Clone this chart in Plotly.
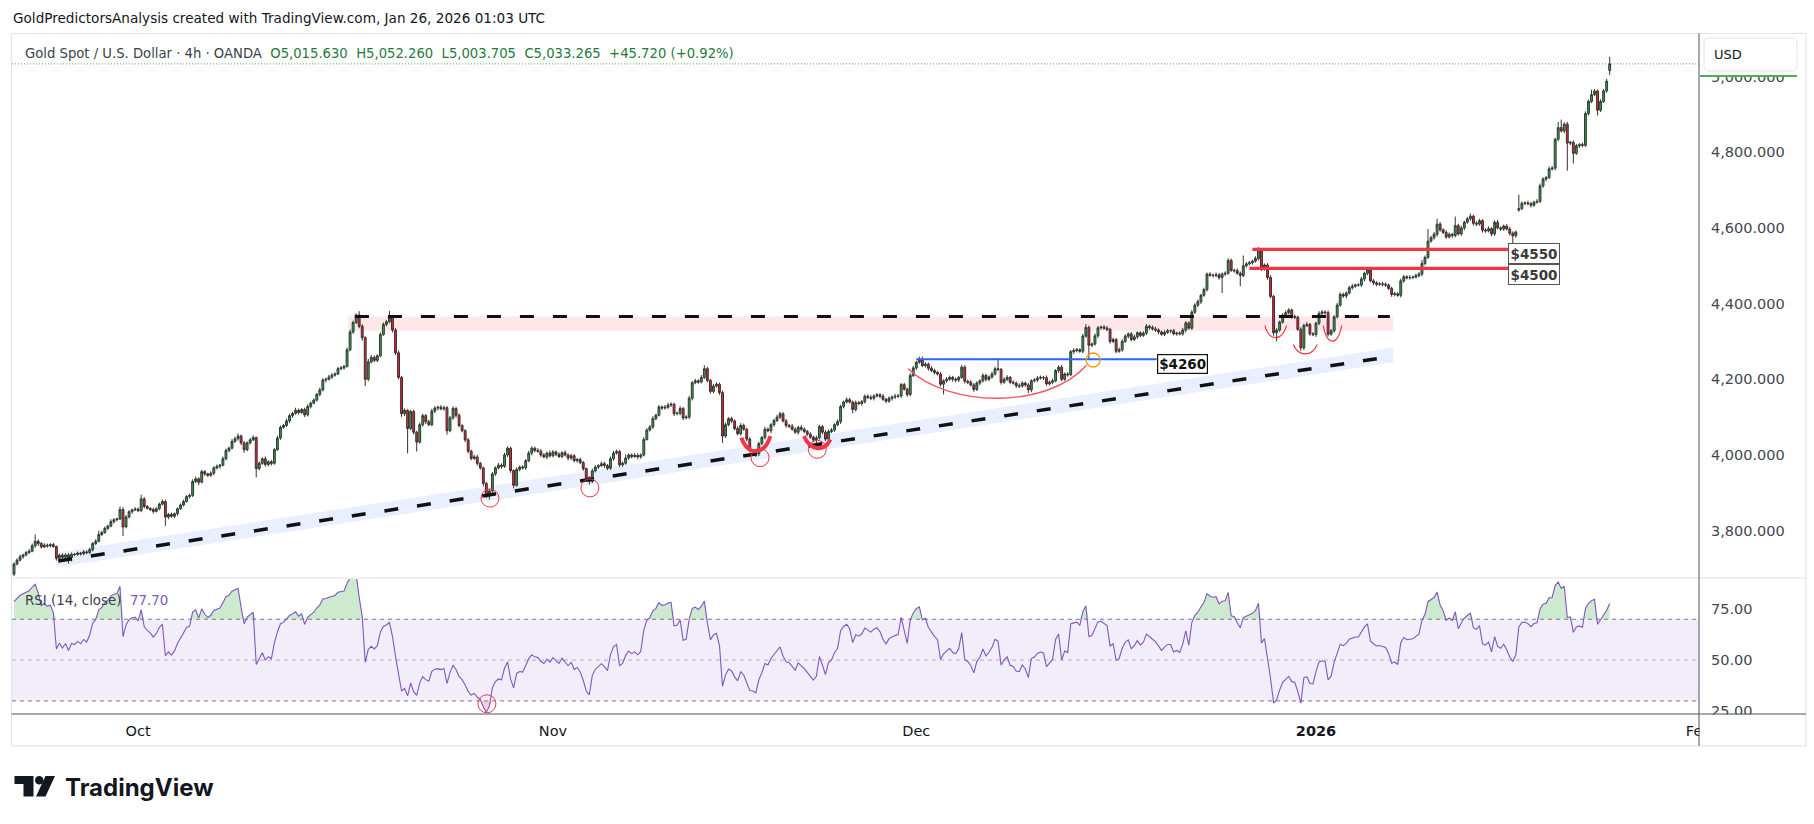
import numpy as np
import pandas as pd
import plotly.graph_objects as go

# ---------------------------------------------------------------- data
HEADER = "GoldPredictorsAnalysis created with TradingView.com, Jan 26, 2026 01:03 UTC"
SYMBOL = "Gold Spot / U.S. Dollar \u00b7 4h \u00b7 OANDA"

# 4h closes before the first visible bar (only used to warm up the RSI)
warmup_closes = [3680, 3692, 3698, 3696, 3690, 3689,
                 3690, 3688, 3684, 3680, 3662, 3660,
                 3650, 3655, 3640, 3636, 3645, 3643,
                 3650, 3660, 3664, 3672, 3680, 3685]

# 4h closes, Sep 22 2025 -> Jan 26 2026 (rows of six bars)
closes = [
    3712, 3722, 3731, 3736, 3742, 3746,   # 0
    3760, 3772, 3766, 3757, 3762, 3760,   # 6
    3763, 3758, 3727, 3735, 3730, 3736,   # 12
    3729, 3738, 3737, 3741, 3739, 3744,   # 18
    3742, 3750, 3766, 3772, 3790, 3795,   # 24
    3806, 3812, 3824, 3829, 3831, 3856,   # 30
    3810, 3836, 3850, 3855, 3857, 3853,   # 36
    3884, 3864, 3859, 3856, 3851, 3858,   # 42
    3870, 3877, 3836, 3843, 3838, 3845,   # 48
    3858, 3868, 3877, 3890, 3893, 3930,   # 54
    3937, 3928, 3956, 3950, 3946, 3952,   # 60
    3966, 3970, 3973, 3990, 4012, 4018,   # 66
    4036, 4043, 4050, 4032, 4014, 4032,   # 72
    4040, 4046, 3964, 3978, 3990, 3975,   # 78
    3982, 3978, 4014, 4045, 4073, 4078,   # 84
    4090, 4104, 4110, 4118, 4112, 4120,   # 90
    4106, 4128, 4137, 4145, 4160, 4172,   # 96
    4198, 4200, 4206, 4211, 4214, 4228,   # 102
    4230, 4234, 4278, 4325, 4350, 4370,   # 108
    4340, 4310, 4200, 4246, 4258, 4250,   # 114
    4262, 4318, 4345, 4352, 4364, 4330,   # 120
    4270, 4205, 4109, 4118, 4070, 4115,   # 126
    4060, 4034, 4080, 4104, 4088, 4080,   # 132
    4116, 4124, 4126, 4122, 4125, 4064,   # 138
    4098, 4123, 4105, 4078, 4064, 4040,   # 144
    4010, 3991, 3995, 3978, 3966, 3925,   # 150
    3892, 3905, 3950, 3966, 3973, 3970,   # 156
    4000, 4018, 3959, 3920, 3962, 3968,   # 162
    3966, 3985, 4005, 4018, 4012, 4010,   # 168
    4000, 3995, 4005, 3998, 4008, 4002,   # 174
    3996, 4006, 4000, 3992, 3998, 3985,   # 180
    3988, 3980, 3964, 3940, 3930, 3958,   # 186
    3968, 3972, 3977, 3972, 3965, 3990,   # 192
    4005, 4009, 3974, 3978, 3992, 4000,   # 198
    3996, 3999, 3995, 4000, 4041, 4066,   # 204
    4074, 4096, 4105, 4127, 4124, 4126,   # 210
    4132, 4134, 4109, 4110, 4123, 4098,   # 216
    4100, 4150, 4191, 4196, 4193, 4205,   # 222
    4228, 4197, 4168, 4182, 4187, 4165,   # 228
    4050, 4080, 4096, 4090, 4070, 4056,   # 234
    4078, 4068, 4042, 4012, 4010, 4003,   # 240
    4030, 4046, 4068, 4064, 4080, 4091,   # 246
    4100, 4109, 4090, 4078, 4076, 4068,   # 252
    4060, 4073, 4068, 4062, 4055, 4047,   # 258
    4040, 4045, 4075, 4060, 4042, 4062,   # 264
    4066, 4080, 4088, 4128, 4140, 4146,   # 270
    4140, 4120, 4138, 4136, 4141, 4155,   # 276
    4152, 4150, 4156, 4159, 4155, 4147,   # 282
    4142, 4150, 4153, 4155, 4156, 4186,   # 288
    4174, 4160, 4210, 4230, 4245, 4251,   # 294
    4236, 4240, 4229, 4223, 4218, 4214,   # 300
    4187, 4196, 4200, 4205, 4200, 4198,   # 306
    4205, 4232, 4195, 4192, 4185, 4173,   # 312
    4190, 4196, 4210, 4200, 4206, 4214,   # 318
    4228, 4226, 4192, 4200, 4205, 4192,   # 324
    4190, 4183, 4182, 4190, 4185, 4172,   # 330
    4196, 4198, 4203, 4205, 4204, 4188,   # 336
    4192, 4196, 4223, 4232, 4200, 4214,   # 342
    4212, 4273, 4276, 4278, 4274, 4314,   # 348
    4337, 4290, 4293, 4315, 4336, 4338,   # 354
    4335, 4332, 4300, 4305, 4274, 4278,   # 360
    4300, 4314, 4320, 4305, 4312, 4323,   # 366
    4316, 4322, 4340, 4337, 4333, 4330,   # 372
    4325, 4319, 4324, 4328, 4328, 4320,   # 378
    4322, 4320, 4330, 4349, 4335, 4377,   # 384
    4396, 4405, 4422, 4437, 4478, 4475,   # 390
    4474, 4476, 4469, 4478, 4480, 4514,   # 396
    4488, 4487, 4480, 4474, 4500, 4505,   # 402
    4508, 4512, 4519, 4542, 4492, 4502,   # 408
    4469, 4419, 4323, 4330, 4351, 4369,   # 414
    4376, 4383, 4366, 4364, 4332, 4283,   # 420
    4342, 4345, 4320, 4318, 4348, 4374,   # 426
    4378, 4376, 4319, 4328, 4365, 4396,   # 432
    4424, 4420, 4428, 4442, 4446, 4449,   # 438
    4449, 4465, 4480, 4490, 4460, 4455,   # 444
    4451, 4452, 4451, 4449, 4440, 4424,   # 450
    4426, 4422, 4460, 4471, 4468, 4469,   # 456
    4470, 4474, 4478, 4506, 4522, 4565,   # 462
    4574, 4583, 4610, 4595, 4588, 4576,   # 468
    4583, 4580, 4606, 4584, 4600, 4615,   # 474
    4624, 4631, 4612, 4610, 4619, 4594,   # 480
    4592, 4598, 4584, 4615, 4600, 4597,   # 486
    4605, 4597, 4586, 4579, 4589, 4651,   # 492
    4665, 4666, 4664, 4660, 4668, 4670,   # 498
    4711, 4729, 4733, 4756, 4758, 4834,   # 504
    4865, 4856, 4874, 4824, 4826, 4797,   # 510
    4817, 4820, 4818, 4902, 4934, 4952,   # 516
    4961.6, 4911, 4934, 4962, 4987.545, 5033.265,   # 522
]

# opens that differ from the previous close (session gaps)
gap_opens = {0: 3685.0, 497: 4647.0, 527: 5015.630}

# wick lengths in $ above max(open, close) / below min(open, close)
upper_wick = [
    4, 5, 6, 3, 4, 5,   6, 18, 5, 4, 5, 4,   4, 5, 3, 4, 5, 4,   5, 4, 3, 4, 3, 5,
    4, 5, 4, 6, 10, 5,  5, 4, 6, 4, 3, 8,    6, 5, 4, 3, 5, 4,   11, 5, 4, 3, 5, 4,
    4, 6, 5, 4, 5, 3,   3, 4, 5, 4, 5, 6,    6, 4, 5, 4, 3, 5,   4, 5, 3, 6, 5, 4,
    6, 5, 7, 4, 5, 4,   5, 6, 3, 5, 4, 6,    4, 5, 4, 6, 5, 4,   6, 5, 4, 7, 5, 4,
    5, 6, 4, 5, 4, 6,   5, 4, 6, 5, 4, 5,    5, 4, 6, 6, 5, 4,   10, 6, 4, 8, 6, 5,
    4, 6, 5, 4, 17, 6,  5, 6, 4, 5, 3, 4,    5, 4, 6, 5, 4, 5,   6, 5, 4, 6, 5, 4,
    5, 6, 4, 5, 3, 4,   5, 4, 6, 5, 4, 3,    4, 6, 5, 4, 6, 5,   6, 5, 4, 3, 5, 4,
    5, 4, 6, 5, 4, 6,   6, 5, 4, 7, 5, 4,    5, 4, 6, 4, 5, 4,   4, 5, 4, 3, 4, 6,
    5, 4, 6, 5, 4, 6,   6, 5, 4, 5, 10, 4,   4, 6, 5, 4, 6, 5,   5, 6, 4, 5, 4, 6,
    6, 5, 4, 5, 6, 4,   5, 6, 4, 5, 4, 6,    9, 5, 4, 6, 5, 4,   5, 6, 4, 5, 4, 6,
    6, 5, 4, 5, 4, 6,   5, 4, 6, 5, 4, 5,    6, 5, 4, 5, 4, 6,   5, 4, 6, 5, 4, 5,
    4, 6, 5, 4, 6, 5,   5, 4, 6, 5, 4, 6,    5, 4, 6, 5, 4, 5,   5, 6, 4, 5, 4, 6,
    4, 5, 4, 6, 5, 4,   5, 4, 6, 5, 4, 9,    9, 5, 4, 6, 5, 4,   5, 4, 6, 5, 4, 5,
    4, 6, 5, 4, 6, 5,   5, 4, 6, 5, 4, 6,    5, 27, 4, 5, 6, 4,  5, 4, 6, 5, 4, 5,
    4, 5, 6, 5, 4, 6,   5, 6, 4, 5, 6, 4,    5, 4, 6, 5, 4, 6,   9, 5, 4, 6, 5, 4,
    5, 6, 4, 5, 4, 6,   6, 5, 4, 5, 6, 4,    4, 5, 6, 4, 5, 6,   5, 4, 6, 5, 4, 5,
    4, 5, 6, 5, 4, 6,   5, 6, 4, 5, 4, 5,    4, 6, 5, 4, 5, 6,   5, 4, 6, 5, 27, 5,
    5, 4, 6, 7, 5, 4,   5, 6, 4, 5, 4, 6,    6, 5, 4, 5, 4, 5,   5, 6, 4, 5, 4, 6,
    5, 4, 6, 5, 4, 6,   6, 5, 4, 5, 6, 4,    5, 6, 4, 5, 4, 5,   4, 5, 6, 5, 4, 5,
    5, 4, 6, 5, 4, 6,   4, 5, 6, 9, 5, 32,   5, 6, 14, 5, 4, 6,  5, 4, 24, 5, 6, 4,
    5, 7, 4, 6, 5, 4,   5, 6, 4, 5, 6, 4,    4, 5, 6, 5, 4, 37,  5, 4, 6, 5, 4, 6,
    6, 5, 4, 6, 5, 4,   15, 21, 5, 6, 4, 5,  5, 4, 6, 6, 5, 13,  5, 4, 6, 5, 6, 0,
]
lower_wick = [
    5, 4, 3, 5, 4, 3,   3, 5, 6, 4, 3, 5,    4, 3, 6, 5, 6, 8,   16, 10, 4, 3, 5, 4,
    4, 3, 5, 4, 3, 4,   3, 4, 3, 5, 4, 3,    24, 4, 3, 5, 3, 4,  4, 5, 3, 4, 6, 3,
    4, 3, 23, 6, 4, 5,  5, 3, 4, 3, 5, 4,    4, 8, 3, 5, 4, 3,   5, 4, 6, 3, 4, 5,
    3, 4, 5, 6, 8, 4,   4, 3, 23, 5, 4, 6,   5, 6, 4, 3, 5, 4,   4, 5, 6, 4, 5, 3,
    6, 4, 5, 3, 4, 5,   4, 6, 3, 5, 4, 3,    4, 5, 3, 4, 5, 4,   5, 8, 18, 5, 4, 5,
    5, 4, 3, 5, 4, 6,   6, 5, 8, 6, 66, 5,   6, 25, 4, 5, 6, 4,  4, 5, 6, 4, 5, 10,
    4, 5, 6, 5, 4, 6,   6, 5, 4, 6, 5, 8,    6, 10, 4, 5, 4, 6,  4, 5, 6, 8, 4, 5,
    4, 5, 4, 6, 5, 4,   5, 4, 6, 5, 4, 5,    4, 5, 4, 6, 5, 4,   5, 4, 6, 5, 8, 4,
    4, 5, 4, 6, 5, 4,   5, 4, 6, 5, 4, 5,    5, 4, 6, 5, 4, 3,   4, 5, 4, 3, 5, 4,
    4, 5, 6, 4, 5, 6,   4, 5, 6, 4, 5, 4,    4, 5, 6, 5, 4, 6,   18, 5, 4, 6, 5, 4,
    5, 4, 6, 5, 4, 8,   6, 4, 5, 4, 6, 5,    4, 5, 4, 6, 5, 4,   4, 6, 5, 4, 5, 4,
    6, 15, 4, 5, 5, 4,  4, 5, 4, 6, 5, 4,    4, 10, 5, 4, 6, 5,  4, 5, 6, 4, 5, 4,
    5, 4, 6, 5, 4, 5,   4, 6, 5, 4, 5, 4,    4, 5, 6, 4, 5, 4,   6, 27, 5, 4, 6, 5,
    5, 4, 6, 5, 4, 6,   4, 5, 4, 6, 5, 4,    4, 5, 6, 4, 5, 4,   4, 6, 5, 4, 5, 9,
    6, 4, 5, 4, 6, 5,   4, 5, 4, 6, 5, 4,    5, 4, 6, 5, 4, 5,   4, 39, 5, 4, 6, 5,
    4, 5, 6, 4, 5, 4,   5, 4, 6, 5, 4, 5,    5, 4, 5, 6, 4, 5,   6, 4, 5, 4, 6, 4,
    5, 4, 5, 6, 4, 5,   4, 5, 6, 4, 5, 4,    5, 4, 6, 41, 5, 4,  4, 5, 4, 28, 4, 5,
    4, 5, 4, 5, 6, 5,   6, 5, 8, 23, 5, 4,   4, 5, 6, 5, 4, 8,   6, 4, 5, 4, 6, 5,
    4, 5, 6, 4, 5, 4,   4, 5, 6, 4, 5, 4,    4, 5, 6, 5, 4, 6,   5, 4, 6, 5, 4, 6,
    5, 4, 6, 5, 4, 5,   5, 4, 5, 6, 5, 4,    4, 5, 6, 5, 4, 5,   4, 6, 5, 4, 5, 6,
    4, 5, 6, 5, 4, 6,   5, 4, 6, 5, 4, 5,    5, 4, 6, 19, 5, 4,  4, 5, 4, 6, 5, 4,
    4, 5, 6, 4, 5, 6,   5, 4, 6, 73, 5, 27,  4, 6, 5, 4, 5, 4,   4, 14, 5, 4, 5, 0,
]
last_high = 5052.260
last_low = 5003.705

month_labels = ["Oct", "Nov", "Dec", "<b>2026</b>", "Feb"]
month_first_bar = [41, 178, 298, 430, 556.4]
price_ticks = [3800, 4000, 4200, 4400, 4600, 4800, 5000]
rsi_ticks = [25, 50, 75]

# chart drawings (bar index, price)
resistance_level = 4366
resistance_zone = (4328, 4366)
support_start = (14.6, 3720)
support_end = (450.6, 4255)
blue_level, blue_label = 4253, "$4260"
red_levels = [(4543, "$4550", 4532), (4493, "$4500", 4477)]
low_circles = [(157.2, 3886), (190.2, 3913), (246.4, 3993), (265.3, 4015)]
orange_circle = (356.4, 4251)
rsi_circle = (156.2, 28.6)

# ---------------------------------------------------------------- derived
n = len(closes)
assert len(upper_wick) == n and len(lower_wick) == n, (n, len(upper_wick), len(lower_wick))
bars = np.arange(n)
opens = [gap_opens[i] if i in gap_opens else closes[i - 1] for i in range(n)]
highs = [max(o, c) + u for o, c, u in zip(opens, closes, upper_wick)]
lows = [min(o, c) - d for o, c, d in zip(opens, closes, lower_wick)]
highs[-1], lows[-1] = last_high, last_low

s = pd.Series(warmup_closes + closes, dtype=float)
dlt = s.diff()
ag = dlt.clip(lower=0).ewm(alpha=1 / 14, adjust=False).mean()
al = (-dlt).clip(lower=0).ewm(alpha=1 / 14, adjust=False).mean()
rsi = (100 - 100 / (1 + ag / al)).iloc[len(warmup_closes):].to_numpy()

# ---------------------------------------------------------------- geometry
W, H = 1814, 824
ML, MR, MT, MB = 12, 115, 34, 110
PW, PH = W - ML - MR, H - MT - MB


def px(x):
    return (x - ML) / PW


def py(y):
    return (H - MB - y) / PH


FONT = "DejaVu Sans"
TXT = "#131722"
AXT = "#434651"
RED = "#f23645"

fig = go.Figure()
fig.add_trace(go.Candlestick(
    x=bars, open=opens, high=highs, low=lows, close=closes,
    increasing=dict(line=dict(color="#2f3a31", width=1), fillcolor="#34a04b"),
    decreasing=dict(line=dict(color="#3a2f2f", width=1), fillcolor="#ec2630"),
    whiskerwidth=0, hoverinfo="skip", xaxis="x", yaxis="y"))

ob = np.maximum(rsi, 70)
os_ = np.minimum(rsi, 30)
fig.add_trace(go.Scatter(x=bars, y=np.full(n, 70.0), mode="lines", line=dict(width=0),
                         hoverinfo="skip", xaxis="x", yaxis="y2"))
fig.add_trace(go.Scatter(x=bars, y=ob, mode="lines", line=dict(width=0), fill="tonexty",
                         fillcolor="rgba(76,175,80,0.28)", hoverinfo="skip", xaxis="x", yaxis="y2"))
fig.add_trace(go.Scatter(x=bars, y=np.full(n, 30.0), mode="lines", line=dict(width=0),
                         hoverinfo="skip", xaxis="x", yaxis="y2"))
fig.add_trace(go.Scatter(x=bars, y=os_, mode="lines", line=dict(width=0), fill="tonexty",
                         fillcolor="rgba(242,54,69,0.25)", hoverinfo="skip", xaxis="x", yaxis="y2"))
fig.add_trace(go.Scatter(x=bars, y=rsi, mode="lines", line=dict(color="#7e57c2", width=1.1),
                         hoverinfo="skip", xaxis="x", yaxis="y2"))

shapes = []
# RSI band and levels
shapes.append(dict(type="rect", xref="paper", yref="y2", x0=0, x1=1, y0=30, y1=70,
                   fillcolor="rgba(126,87,194,0.1)", line=dict(width=0), layer="below"))
for lvl, col in [(70, "#787b86"), (50, "rgba(120,123,134,0.55)"), (30, "#787b86")]:
    shapes.append(dict(type="line", xref="paper", yref="y2", x0=0, x1=1, y0=lvl, y1=lvl,
                       line=dict(color=col, width=1, dash="4px,4px"), layer="below"))

# resistance zone + line
shapes.append(dict(type="rect", xref="x", yref="y", x0=110.4, x1=455.5,
                   y0=resistance_zone[0], y1=resistance_zone[1],
                   fillcolor="rgba(242,54,69,0.12)", line=dict(width=0), layer="below"))


def sup(xb):
    (x0, y0), (x1, y1) = support_start, support_end
    return y0 + (y1 - y0) * (xb - x0) / (x1 - x0)


bx0, bx1 = 13.9, 455.5
shapes.append(dict(type="path", xref="x", yref="y", layer="below",
                   path=f"M {bx0},{sup(bx0) - 16} L {bx1},{sup(bx1) - 16} "
                        f"L {bx1},{sup(bx1) + 23} L {bx0},{sup(bx0) + 23} Z",
                   fillcolor="rgba(41,98,255,0.10)", line=dict(width=0)))

shapes.append(dict(type="line", xref="x", yref="y", x0=112.6, x1=454.4,
                   y0=resistance_level, y1=resistance_level,
                   line=dict(color="#111111", width=3, dash="14px,19px"), layer="above"))
shapes.append(dict(type="line", xref="x", yref="y", x0=support_start[0], x1=support_end[0],
                   y0=support_start[1], y1=support_end[1],
                   line=dict(color="#111111", width=3.5, dash="14px,19px"), layer="above"))

# blue breakout level
shapes.append(dict(type="line", xref="x", yref="y", x0=298, x1=377.4, y0=blue_level, y1=blue_level,
                   line=dict(color="#2962ff", width=2.2), layer="above"))
# red levels
shapes.append(dict(type="line", xref="x", yref="y", x0=409, x1=493.5, y0=red_levels[0][0],
                   y1=red_levels[0][0], line=dict(color=RED, width=3.2), layer="above"))
shapes.append(dict(type="line", xref="x", yref="y", x0=408, x1=493.5, y0=red_levels[1][0],
                   y1=red_levels[1][0], line=dict(color=RED, width=3.2), layer="above"))

# last price dotted line
shapes.append(dict(type="line", xref="paper", yref="y", x0=0, x1=1, y0=closes[-1], y1=closes[-1],
                   line=dict(color="#4caf50", width=1, dash="1px,2px"), layer="above"))

# circles (pixel sized, anchored to data)
for cx, cy in low_circles:
    shapes.append(dict(type="circle", xref="x", yref="y", xsizemode="pixel", ysizemode="pixel",
                       xanchor=cx, yanchor=cy, x0=-9, x1=9, y0=-9, y1=9,
                       line=dict(color=RED, width=1), layer="above"))
shapes.append(dict(type="circle", xref="x", yref="y", xsizemode="pixel", ysizemode="pixel",
                   xanchor=orange_circle[0], yanchor=orange_circle[1], x0=-7, x1=7, y0=-7, y1=7,
                   line=dict(color="#ff9800", width=1.3), layer="above"))
shapes.append(dict(type="circle", xref="x", yref="y2", xsizemode="pixel", ysizemode="pixel",
                   xanchor=rsi_circle[0], yanchor=rsi_circle[1], x0=-9, x1=9, y0=-9, y1=9,
                   line=dict(color=RED, width=1), layer="above"))


def smile(x0, y0, xb, yb, x1, y1):
    cy = (8 * yb - y0 - y1) / 6
    c0 = x0 + (xb - x0) * 0.45
    c1 = x1 - (x1 - xb) * 0.45
    return f"M {x0},{y0} C {c0},{cy} {c1},{cy} {x1},{y1}"


# cup under the December base
shapes.append(dict(type="path", xref="x", yref="y", path=smile(295.3, 4228, 326.2, 4150, 354.2, 4237),
                   line=dict(color="#f7525f", width=1.4), layer="above"))
# brush strokes at the November lows
shapes.append(dict(type="path", xref="x", yref="y", path=smile(240.2, 4046, 245.1, 4010, 249.8, 4050),
                   line=dict(color=RED, width=4), layer="above"))
shapes.append(dict(type="path", xref="x", yref="y", path=smile(260.9, 4050, 265.6, 4018, 269.6, 4041),
                   line=dict(color=RED, width=4), layer="above"))
# small smiles at the late-December lows
for a in [(413.1, 4342, 416.7, 4310, 420.3, 4342),
          (422.5, 4292, 426.5, 4267, 430.4, 4292),
          (432.4, 4342, 435.4, 4301, 438.5, 4342)]:
    shapes.append(dict(type="path", xref="x", yref="y", path=smile(*a),
                       line=dict(color=RED, width=1.2), layer="above"))


def pline(x0, y0, x1, y1, color, width=1):
    return dict(type="line", xref="paper", yref="paper", x0=px(x0), x1=px(x1), y0=py(y0), y1=py(y1),
                line=dict(color=color, width=width), layer="above")


def prect(x0, y0, x1, y1, fill):
    return dict(type="rect", xref="paper", yref="paper", x0=px(x0), x1=px(x1), y0=py(y1), y1=py(y0),
                fillcolor=fill, line=dict(width=0), layer="above")


# clip the axis column below the RSI pane and above the last-price marker
shapes.append(prect(1699.5, 714.5, 1805.5, 745.5, "white"))
shapes.append(prect(1699.5, 34, 1805.5, 75.5, "white"))
# frame
FR = "#e0e3eb"
shapes += [pline(11.5, 33.5, 1806, 33.5, FR), pline(11.5, 33.5, 11.5, 746, FR),
           pline(1806, 33.5, 1806, 746, FR), pline(11.5, 746, 1806, 746, FR),
           pline(11.5, 578, 1806, 578, FR),
           pline(11.5, 714, 1806, 714, "#50535e"), pline(1699, 33.5, 1699, 746, "#50535e")]

# USD box
x0b, x1b, y0b, y1b, r = 1704, 1797, 38, 71, 5
shapes.append(dict(type="path", xref="paper", yref="paper", layer="above",
                   path=(f"M {px(x0b + r)},{py(y0b)} L {px(x1b - r)},{py(y0b)} "
                         f"Q {px(x1b)},{py(y0b)} {px(x1b)},{py(y0b + r)} L {px(x1b)},{py(y1b - r)} "
                         f"Q {px(x1b)},{py(y1b)} {px(x1b - r)},{py(y1b)} L {px(x0b + r)},{py(y1b)} "
                         f"Q {px(x0b)},{py(y1b)} {px(x0b)},{py(y1b - r)} L {px(x0b)},{py(y0b + r)} "
                         f"Q {px(x0b)},{py(y0b)} {px(x0b + r)},{py(y0b)} Z"),
                   fillcolor="white", line=dict(color=FR, width=1)))
shapes.append(pline(1700, 76, 1797, 76, "#4caf50", 2))

# TradingView logo glyph
LOGO = "#131722"


def ppath(pts):
    return "M " + " L ".join(f"{px(a)},{py(b)}" for a, b in pts) + " Z"


shapes.append(dict(type="path", xref="paper", yref="paper", layer="above", fillcolor=LOGO,
                   line=dict(width=0),
                   path=ppath([(14.5, 776), (33.5, 776), (33.5, 796.5), (23.5, 796.5), (23.5, 784), (14.5, 784)])))
shapes.append(dict(type="circle", xref="paper", yref="paper", layer="above", fillcolor=LOGO,
                   line=dict(width=0), x0=px(35), x1=px(43.5), y0=py(784.5), y1=py(776)))
shapes.append(dict(type="path", xref="paper", yref="paper", layer="above", fillcolor=LOGO,
                   line=dict(width=0),
                   path=ppath([(36, 796.5), (45.5, 796.5), (55, 776), (45.5, 776)])))

# ---------------------------------------------------------------- annotations
ann = []


def ptext(x, y, text, size, color=TXT, family=FONT, xanchor="left"):
    ann.append(dict(xref="paper", yref="paper", x=px(x), y=py(y), text=text, showarrow=False,
                    xanchor=xanchor, yanchor="middle", font=dict(family=family, size=size, color=color)))


ptext(11, 18, HEADER, 13.6)
chg = closes[-1] - closes[-2]
pct = chg / closes[-2] * 100
GRN = "#1f7a3d"
vals = (f"O{opens[-1]:,.3f}\u00a0\u00a0H{highs[-1]:,.3f}\u00a0\u00a0L{lows[-1]:,.3f}"
        f"\u00a0\u00a0C{closes[-1]:,.3f}\u00a0\u00a0{chg:+.3f} ({pct:+.2f}%)")
ptext(23, 53, f"{SYMBOL}\u00a0\u00a0<span style='color:{GRN}'>{vals}</span>", 13.2, color="#3b3f4a")
ptext(23, 600, f"RSI (14, close)\u00a0\u00a0<span style='color:#7e57c2'>{rsi[-1]:.2f}</span>", 13.4,
      color="#3b3f4a")
ptext(1712, 54.5, "USD", 13, color=TXT)
ptext(63, 787, "<b>TradingView</b>", 24, color=LOGO, family="Inter")

# level labels
ann.append(dict(xref="x", yref="y", x=377.4, y=4241, text=f"<b>{blue_label}</b>", showarrow=False,
                xanchor="left", yanchor="middle", bgcolor="white", bordercolor="#111111",
                borderwidth=1.2, borderpad=1, font=dict(family=FONT, size=13.5, color="#111111")))
for lvl, lab, yc in red_levels:
    ann.append(dict(xref="x", yref="y", x=493.5, y=yc, text=f"<b>{lab}</b>", showarrow=False,
                    xanchor="left", yanchor="middle", bgcolor="white", bordercolor="#555555",
                    borderwidth=1, borderpad=1.5, font=dict(family=FONT, size=13.5, color="#3a3a3a")))

axfont = dict(family=FONT, size=14.5, color=AXT)
fig.update_layout(
    width=W, height=H, margin=dict(l=ML, r=MR, t=MT, b=MB),
    paper_bgcolor="white", plot_bgcolor="white", showlegend=False, boxgap=0.12,
    shapes=shapes, annotations=ann,
    xaxis=dict(domain=[0, 1], range=[-0.66, 556.5], anchor="y2", tickmode="array",
               tickvals=month_first_bar, ticktext=month_labels, showgrid=False, zeroline=False,
               showline=False, ticks="", ticklabelstandoff=6, tickfont=dict(family=FONT, size=14.5, color=TXT),
               rangeslider=dict(visible=False)),
    yaxis=dict(domain=[0.2015, 1], range=[3677.7, 5112.3], side="right", anchor="x",
               tickmode="array", tickvals=price_ticks, tickformat=",.3f", showgrid=False,
               zeroline=False, showline=False, ticks="", ticklabelstandoff=11, tickfont=axfont),
    yaxis2=dict(domain=[0, 0.1985], range=[23.6, 89.7], side="right", anchor="x",
                tickmode="array", tickvals=rsi_ticks, tickformat=".2f", showgrid=False,
                zeroline=False, showline=False, ticks="", ticklabelstandoff=11, tickfont=axfont),
)

fig.write_html("out.html")
